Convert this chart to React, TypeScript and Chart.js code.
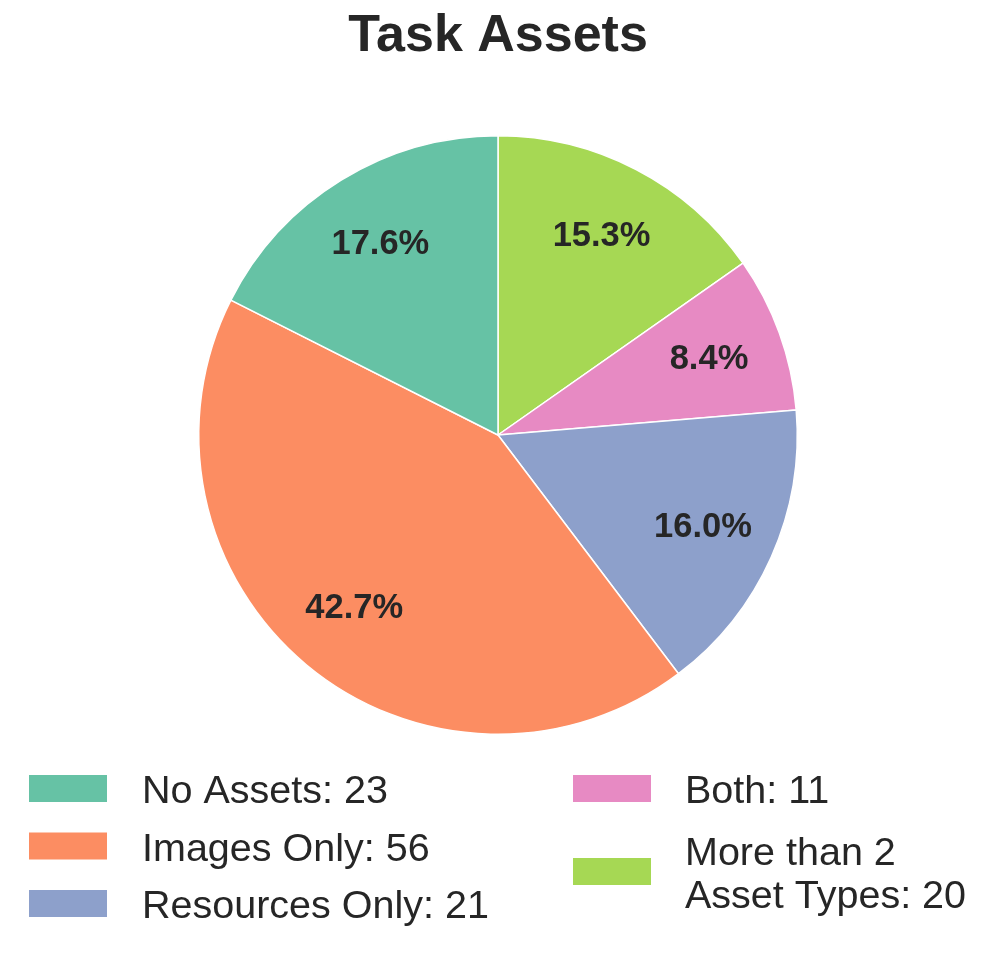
import React, { useEffect, useRef } from "react";
import { Chart, registerables } from "chart.js";

Chart.register(...registerables);

const TITLE = "Task Assets";
const CATEGORIES = ["No Assets", "Images Only", "Resources Only", "Both", "More than 2 Asset Types"];
const LEGEND_LINES = [["No Assets: 23"], ["Images Only: 56"], ["Resources Only: 21"], ["Both: 11"], ["More than 2", "Asset Types: 20"]];
const VALUES = [23, 56, 21, 11, 20];
const COLORS = ["#66c2a5", "#fc8d62", "#8da0cb", "#e78ac3", "#a6d854"];

const FONT = "'Liberation Sans', Arial, Helvetica, sans-serif";
const TEXT = "#262626";

export default function App() {
  const ref = useRef<HTMLCanvasElement | null>(null);

  useEffect(() => {
    if (!ref.current) return;
    // matplotlib draws counter-clockwise from the top; Chart.js draws clockwise, so reverse.
    const order = VALUES.map((_, i) => VALUES.length - 1 - i);
    const total = VALUES.reduce((a, b) => a + b, 0);

    const overlay = {
      id: "overlay",
      afterDraw(chart: any) {
        const ctx = chart.ctx as CanvasRenderingContext2D;
        ctx.save();
        // title
        ctx.fillStyle = TEXT;
        ctx.textAlign = "center";
        ctx.textBaseline = "alphabetic";
        ctx.font = `bold 52px ${FONT}`;
        ctx.fillText(TITLE, 498, 51);

        // percentage labels
        const meta = chart.getDatasetMeta(0);
        ctx.font = `bold 34.5px ${FONT}`;
        ctx.textBaseline = "middle";
        meta.data.forEach((arc: any, j: number) => {
          const p = arc.getProps(["x", "y", "startAngle", "endAngle", "outerRadius"], true);
          const mid = (p.startAngle + p.endAngle) / 2;
          const r = p.outerRadius * 0.75;
          const v = (chart.data.datasets[0].data[j] as number) / total * 100;
          ctx.fillText(v.toFixed(1) + "%", p.x + Math.cos(mid) * r, p.y + Math.sin(mid) * r + 1);
        });

        // legend
        ctx.textAlign = "left";
        ctx.textBaseline = "alphabetic";
        ctx.font = `39.5px ${FONT}`;
        const left = [0, 1, 2];
        const right = [3, 4];
        left.forEach((i, k) => {
          const top = 775 + k * 57.5;
          ctx.fillStyle = COLORS[i];
          ctx.fillRect(29, top, 78, 27);
          ctx.fillStyle = TEXT;
          ctx.fillText(LEGEND_LINES[i][0], 142, top + 28);
        });
        right.forEach((i, k) => {
          const top = 775 + k * 83;
          ctx.fillStyle = COLORS[i];
          ctx.fillRect(573, top, 78, 27);
          ctx.fillStyle = TEXT;
          const lines = LEGEND_LINES[i];
          if (lines.length === 1) {
            ctx.fillText(lines[0], 685, top + 28);
          } else {
            ctx.fillText(lines[0], 685, top + 28 - 21.5);
            ctx.fillText(lines[1], 685, top + 28 + 21.5);
          }
        });
        ctx.restore();
      },
    };

    const chart = new Chart(ref.current, {
      type: "pie",
      data: {
        labels: order.map((i) => CATEGORIES[i]),
        datasets: [
          {
            data: order.map((i) => VALUES[i]),
            backgroundColor: order.map((i) => COLORS[i]),
            borderColor: "#ffffff",
            borderWidth: 1.5,
          },
        ],
      },
      options: {
        responsive: false,
        animation: false,
        rotation: 0,
        layout: { padding: { left: 198, right: 199, top: 134, bottom: 218 } },
        plugins: {
          legend: { display: false },
          title: { display: false },
          tooltip: { enabled: false },
        },
      },
      plugins: [overlay],
    });
    return () => chart.destroy();
  }, []);

  return (
    <div style={{ position: "fixed", left: 0, top: 0, width: 997, height: 954, background: "#ffffff" }}>
      <canvas ref={ref} width={997} height={954} style={{ display: "block" }} />
    </div>
  );
}
